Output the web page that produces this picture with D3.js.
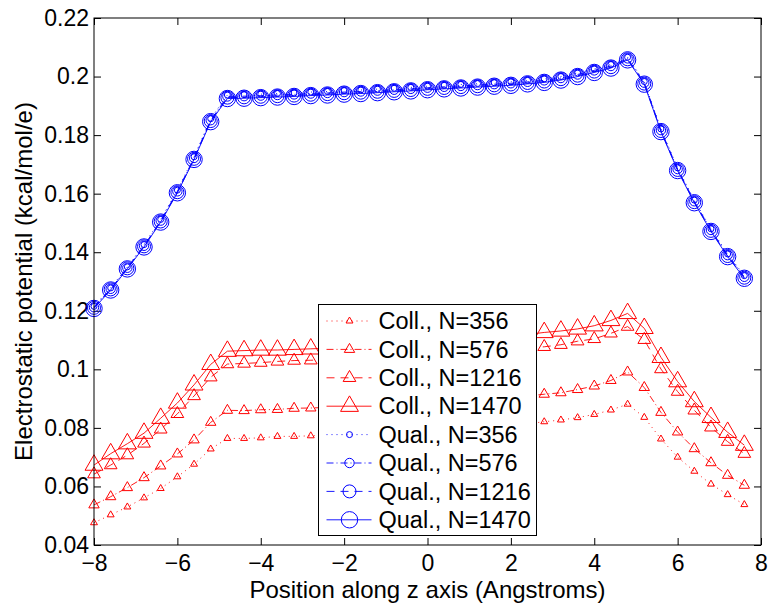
<!DOCTYPE html>
<html>
<head>
<meta charset="utf-8">
<script src="https://d3js.org/d3.v7.min.js"></script>
<style>
  body { margin: 0; background: #fff; }
  svg { font-family: "Liberation Sans", Arial, sans-serif; }
</style>
</head>
<body>
<svg id="chart" width="769" height="608"></svg>
<script>
// position along z (Angstroms)
var zPos = [-8, -7.6, -7.2, -6.8, -6.4, -6.0, -5.6, -5.2, -4.8, -4.4, -4.0, -3.6, -3.2, -2.8, -2.4, -2.0, -1.6, -1.2, -0.8, -0.4,
            0, 0.4, 0.8, 1.2, 1.6, 2.0, 2.4, 2.8, 3.2, 3.6, 4.0, 4.4, 4.8, 5.2, 5.6, 6.0, 6.4, 6.8, 7.2, 7.6];

var coll356 = [0.0476, 0.0503, 0.0530, 0.0561, 0.0593, 0.0633, 0.0676, 0.0728, 0.0764, 0.0764, 0.0766, 0.0771, 0.0771, 0.0773,
               0.0775, 0.0777, 0.0779, 0.0781, 0.0783, 0.0786, 0.0789, 0.0792, 0.0795, 0.0799, 0.0803, 0.0808, 0.0814,
               0.0821, 0.0827, 0.0835, 0.0846, 0.0861, 0.0881, 0.0836, 0.0762, 0.0700, 0.0652, 0.0608, 0.0572, 0.0538];
var coll576 = [0.0537, 0.0565, 0.0596, 0.0630, 0.0670, 0.0711, 0.0759, 0.0819, 0.0860, 0.0859, 0.0862, 0.0863, 0.0867, 0.0868,
               0.0870, 0.0872, 0.0874, 0.0876, 0.0878, 0.0881, 0.0884, 0.0887, 0.0890, 0.0894, 0.0898, 0.0903, 0.0909,
               0.0915, 0.0920, 0.0931, 0.0943, 0.0962, 0.0991, 0.0938, 0.0853, 0.0786, 0.0729, 0.0681, 0.0638, 0.0604];
var coll1216 = [0.0642, 0.0673, 0.0707, 0.0747, 0.0795, 0.0848, 0.0909, 0.0973, 0.1018, 0.1020, 0.1023, 0.1027, 0.1030, 0.1031,
                0.1034, 0.1037, 0.1040, 0.1043, 0.1046, 0.1049, 0.1052, 0.1055, 0.1058, 0.1061, 0.1065, 0.1069, 0.1073,
                0.1077, 0.1084, 0.1096, 0.1104, 0.1123, 0.1146, 0.1101, 0.1001, 0.0924, 0.0860, 0.0802, 0.0753, 0.0712];
var coll1470 = [0.0673, 0.0712, 0.0746, 0.0782, 0.0833, 0.0885, 0.0947, 0.1017, 0.1062, 0.1064, 0.1066, 0.1066, 0.1068, 0.1070,
                0.1072, 0.1075, 0.1078, 0.1081, 0.1084, 0.1088, 0.1092, 0.1096, 0.1100, 0.1104, 0.1108, 0.1113, 0.1119,
                0.1126, 0.1131, 0.1138, 0.1149, 0.1167, 0.1191, 0.1140, 0.1041, 0.0958, 0.0890, 0.0836, 0.0785, 0.0741];

var qual356 = [0.1215, 0.1278, 0.1350, 0.1426, 0.1512, 0.1612, 0.1726, 0.1856, 0.1937, 0.1938, 0.1940, 0.1942, 0.1944, 0.1947,
               0.1949, 0.1952, 0.1954, 0.1957, 0.1960, 0.1963, 0.1967, 0.1970, 0.1973, 0.1976, 0.1979, 0.1982, 0.1987,
               0.1992, 0.2000, 0.2012, 0.2026, 0.2041, 0.2066, 0.1983, 0.1821, 0.1688, 0.1578, 0.1480, 0.1394, 0.1320];
var qual576 = [0.1212, 0.1275, 0.1347, 0.1422, 0.1508, 0.1608, 0.1722, 0.1851, 0.1932, 0.1933, 0.1935, 0.1937, 0.1939, 0.1942,
               0.1944, 0.1947, 0.1949, 0.1952, 0.1955, 0.1958, 0.1962, 0.1965, 0.1968, 0.1971, 0.1974, 0.1977, 0.1982,
               0.1987, 0.1995, 0.2007, 0.2021, 0.2036, 0.2062, 0.1979, 0.1817, 0.1684, 0.1574, 0.1476, 0.1390, 0.1316];
var qual1216 = [0.1210, 0.1273, 0.1345, 0.1420, 0.1505, 0.1605, 0.1719, 0.1848, 0.1928, 0.1929, 0.1931, 0.1933, 0.1935, 0.1938,
                0.1940, 0.1943, 0.1945, 0.1948, 0.1951, 0.1954, 0.1958, 0.1961, 0.1964, 0.1967, 0.1970, 0.1973, 0.1978,
                0.1983, 0.1991, 0.2003, 0.2017, 0.2032, 0.2059, 0.1976, 0.1814, 0.1681, 0.1571, 0.1473, 0.1387, 0.1313];
var qual1470 = [0.1208, 0.1271, 0.1343, 0.1418, 0.1503, 0.1603, 0.1717, 0.1846, 0.1925, 0.1926, 0.1928, 0.1930, 0.1932, 0.1935,
                0.1937, 0.1940, 0.1942, 0.1945, 0.1948, 0.1951, 0.1955, 0.1958, 0.1961, 0.1964, 0.1967, 0.1970, 0.1975,
                0.1980, 0.1988, 0.2000, 0.2014, 0.2029, 0.2057, 0.1974, 0.1812, 0.1679, 0.1569, 0.1471, 0.1385, 0.1311];

var seriesNames = ["Coll., N=356", "Coll., N=576", "Coll., N=1216", "Coll., N=1470",
                   "Qual., N=356", "Qual., N=576", "Qual., N=1216", "Qual., N=1470"];
var xTicks = [-8, -6, -4, -2, 0, 2, 4, 6, 8];
var xTickLabels = ["\u22128", "\u22126", "\u22124", "\u22122", "0", "2", "4", "6", "8"];
var yTicks = [0.04, 0.06, 0.08, 0.10, 0.12, 0.14, 0.16, 0.18, 0.20, 0.22];
var yTickLabels = ["0.04", "0.06", "0.08", "0.1", "0.12", "0.14", "0.16", "0.18", "0.2", "0.22"];

// styles per series, same order as seriesNames
var seriesData = [coll356, coll576, coll1216, coll1470, qual356, qual576, qual1216, qual1470];
var seriesColor = ["#ff0000", "#ff0000", "#ff0000", "#ff0000", "#0000ff", "#0000ff", "#0000ff", "#0000ff"];
var seriesDash = ["1,4", "7,3,1,3", "8,6", null, "1,4", "7,3,1,3", "8,6", null];
var seriesMarker = ["tri", "tri", "tri", "tri", "circ", "circ", "circ", "circ"];
var markerSize = [6, 9, 11, 15.5, 3, 4.7, 6.5, 8.2];   // triangle height / circle radius

var svg = d3.select("#chart"),
    margin = {top: 18, right: 8, bottom: 63, left: 94},
    width = 769 - margin.left - margin.right,
    height = 608 - margin.top - margin.bottom,
    g = svg.append("g").attr("transform", "translate(" + margin.left + "," + margin.top + ")");

svg.insert("rect", ":first-child").attr("width", 769).attr("height", 608).attr("fill", "#fff");

var x = d3.scaleLinear().domain([-8, 8]).range([0, width]);
var y = d3.scaleLinear().domain([0.04, 0.22]).range([height, 0]);

function markerPath(type, s) {
  if (type == "tri") return d3.symbol(d3.symbolTriangle, s * s / Math.sqrt(3))();
  return d3.symbol(d3.symbolCircle, Math.PI * s * s)();
}

// axes with inward ticks on all four sides
g.append("g")
    .attr("class", "x axis")
    .attr("transform", "translate(0," + height + ")")
    .call(d3.axisBottom(x).tickValues(xTicks).tickSizeInner(-7).tickSizeOuter(0).tickPadding(10)
      .tickFormat(function(d, i) { return xTickLabels[i]; }));
g.append("g")
    .attr("class", "y axis")
    .call(d3.axisLeft(y).tickValues(yTicks).tickSizeInner(-7).tickSizeOuter(0).tickPadding(5)
      .tickFormat(function(d, i) { return yTickLabels[i]; }));
g.append("g")
    .call(d3.axisTop(x).tickValues(xTicks).tickSizeInner(-7).tickSizeOuter(0).tickFormat(""));
g.append("g")
    .attr("transform", "translate(" + width + ",0)")
    .call(d3.axisRight(y).tickValues(yTicks).tickSizeInner(-7).tickSizeOuter(0).tickFormat(""));

g.selectAll(".domain").remove();
g.selectAll(".tick line").attr("stroke", "#000").attr("stroke-width", 1);
g.selectAll(".tick text")
    .attr("fill", "#000")
    .style("font-size", "23px")
    .style("font-family", "'Liberation Sans', Arial, sans-serif");

var valueline = d3.line()
    .x(function(d) { return x(d.z); })
    .y(function(d) { return y(d.v); });

var series = seriesData.map(function(arr, i) {
  return {
    id: seriesNames[i], idx: i,
    values: arr.map(function(v, j) { return {z: zPos[j], v: v}; })
  };
});

var sg = g.selectAll("g.series")
    .data(series)
    .enter().append("g")
      .attr("class", "series");

sg.append("path")
    .attr("fill", "none")
    .attr("stroke", function(d) { return seriesColor[d.idx]; })
    .attr("stroke-width", 0.9)
    .attr("stroke-dasharray", function(d) { return seriesDash[d.idx]; })
    .attr("d", function(d) { return valueline(d.values); });

sg.each(function(s) {
  d3.select(this).selectAll("path.mk")
    .data(s.values)
    .enter().append("path")
      .attr("class", "mk")
      .attr("transform", function(d) { return "translate(" + x(d.z) + "," + y(d.v) + ")"; })
      .attr("d", markerPath(seriesMarker[s.idx], markerSize[s.idx]))
      .attr("fill", "none")
      .attr("stroke", seriesColor[s.idx])
      .attr("stroke-width", 1);
});

// frame
g.append("rect")
    .attr("width", width).attr("height", height)
    .attr("fill", "none").attr("stroke", "#000").attr("stroke-width", 1);

// axis labels
svg.append("text")
    .attr("x", margin.left + width / 2)
    .attr("y", 598)
    .attr("text-anchor", "middle")
    .style("font-size", "24px")
    .text("Position along z axis (Angstroms)");

svg.append("text")
    .attr("transform", "translate(32," + (margin.top + height / 2) + ") rotate(-90)")
    .attr("text-anchor", "middle")
    .style("font-size", "24px")
    .text("Electrostatic potential (kcal/mol/e)");

// legend
var lg = svg.append("g").attr("transform", "translate(318.5,304.5)");
lg.append("rect")
    .attr("width", 218).attr("height", 231)
    .attr("fill", "#fff").attr("stroke", "#000").attr("stroke-width", 1);

var item = lg.selectAll("g.item")
    .data(seriesNames)
    .enter().append("g")
      .attr("class", "item")
      .attr("transform", function(d, i) { return "translate(0," + (16.5 + i * 28.4) + ")"; });

item.append("line")
    .attr("x1", 8).attr("x2", 53)
    .attr("stroke", function(d, i) { return seriesColor[i]; })
    .attr("stroke-width", 0.9)
    .attr("stroke-dasharray", function(d, i) { return seriesDash[i]; });

item.append("path")
    .attr("transform", "translate(31,0)")
    .attr("d", function(d, i) { return markerPath(seriesMarker[i], markerSize[i]); })
    .attr("fill", "none")
    .attr("stroke", function(d, i) { return seriesColor[i]; })
    .attr("stroke-width", 1);

item.append("text")
    .attr("x", 60)
    .attr("dy", "0.35em")
    .style("font-size", "23.5px")
    .text(function(d) { return d; });
</script>
</body>
</html>
